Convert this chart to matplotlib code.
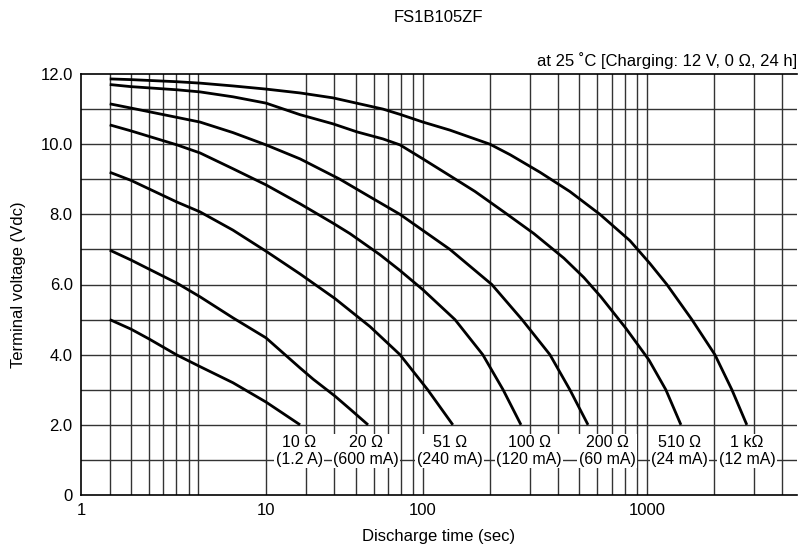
import numpy as np
import matplotlib
matplotlib.use('Agg')
import matplotlib.pyplot as plt

plt.rcParams['font.family'] = ['Liberation Sans', 'DejaVu Sans']

# discharge curves: time (s) / terminal voltage (V)
t_10 = [1.43, 1.86, 2.33, 3.3, 4.4, 6.63, 10, 13, 16.5]
v_10 = [5.0, 4.73, 4.45, 3.99, 3.66, 3.2, 2.65, 2.31, 2.0]

t_20 = [1.43, 1.86, 2.33, 3.3, 4.4, 6.63, 10, 16.5, 20, 27.5, 34.3, 44.7]
v_20 = [6.98, 6.70, 6.44, 6.04, 5.65, 5.05, 4.48, 3.62, 3.3, 2.82, 2.45, 2.0]

t_51 = [1.43, 1.86, 3.3, 4.4, 6.63, 10, 16.5, 27.5, 46, 71.4, 105, 136]
v_51 = [9.2, 8.97, 8.35, 8.07, 7.55, 6.95, 6.3, 5.6, 4.8, 4.0, 3.0, 2.0]

t_100 = [1.43, 1.86, 3.3, 4.4, 6.63, 10, 16.5, 26.7, 34.3, 53.2, 71.4, 100, 139, 185, 228, 274]
v_100 = [10.55, 10.38, 9.98, 9.75, 9.3, 8.84, 8.3, 7.75, 7.45, 6.85, 6.4, 5.85, 5.0, 4.0, 3.0, 2.0]

t_200 = [1.43, 1.86, 4.4, 6.63, 10, 16.5, 29.6, 45.9, 71.4, 132, 203, 277, 369, 453, 546]
v_200 = [11.15, 11.03, 10.63, 10.33, 9.98, 9.58, 9.0, 8.5, 8.0, 7.0, 6.0, 5.0, 4.0, 3.0, 2.0]

t_510 = [1.43, 1.86, 3.3, 4.4, 6.63, 10, 16.5, 26.7, 38, 55.6, 71.4, 100, 132, 171, 232,
         313, 426, 523, 623, 806, 1021, 1215, 1419]
v_510 = [11.7, 11.64, 11.55, 11.49, 11.35, 11.17, 10.84, 10.58, 10.35, 10.15, 9.98, 9.58, 9.1,
         8.65, 8.05, 7.45, 6.75, 6.2, 5.65, 4.75, 3.85, 3.0, 2.0]

t_1k = [1.43, 1.86, 3.3, 4.4, 6.63, 10, 16.5, 26.7, 55.6, 71.4, 100, 132, 162, 199, 245,
        333, 453, 617, 840, 1031, 1228, 1588, 2012, 2396, 2794]
v_1k = [11.86, 11.84, 11.78, 11.74, 11.66, 11.57, 11.46, 11.32, 11.0, 10.85, 10.63, 10.4,
        10.2, 10.0, 9.7, 9.2, 8.65, 8.0, 7.25, 6.6, 6.0, 5.0, 4.0, 3.0, 2.0]

curves = [(t_10, v_10), (t_20, v_20), (t_51, v_51), (t_100, v_100),
          (t_200, v_200), (t_510, v_510), (t_1k, v_1k)]

load_labels = ['10 Ω\n(1.2 A)', '20 Ω\n(600 mA)', '51 Ω\n(240 mA)', '100 Ω\n(120 mA)',
               '200 Ω\n(60 mA)', '510 Ω\n(24 mA)', '1 kΩ\n(12 mA)']
label_pos = [0.305, 0.398, 0.515, 0.626, 0.735, 0.836, 0.930]

x_ticks = [1, 10, 100, 1000]
x_ticklabels = ['1', '10', '100', '1000']
y_ticks = [0, 2, 4, 6, 8, 10, 12]
y_ticklabels = ['0', '2.0', '4.0', '6.0', '8.0', '10.0', '12.0']

# the printed log axis is not uniform: each decade has its own width
log_knots = [-1, 0, 1, 2, 3, 4, 5]
px_knots = [-185, 0, 185, 342, 566, 790, 1014]

# vertical grid lines as printed
x_grid = [1.43, 1.86, 2.33, 2.77, 3.26, 3.84, 4.29, 10,
          18, 27, 37.4, 48.7, 60, 72.4, 86.3, 100,
          200, 300, 400, 500, 600, 700, 800, 900, 1000,
          2000, 3000, 4000]


def fwd(x):
    lx = np.log10(np.clip(np.asarray(x, dtype=float), 1e-9, None))
    return np.interp(lx, log_knots, px_knots)


def inv(p):
    return 10 ** np.interp(p, px_knots, log_knots)


fig = plt.figure(figsize=(8.04, 5.54), dpi=100)
ax = fig.add_axes([81 / 804, 59 / 554, 716 / 804, 421 / 554])
ax.set_xscale('function', functions=(fwd, inv))
ax.set_xlim(1, 4680)
ax.set_ylim(0, 12)

for gx in x_grid:
    ax.axvline(gx, color='#333333', lw=1.0, zorder=1)
for gy in range(1, 12):
    ax.axhline(gy, color='#333333', lw=1.0, zorder=1)

for t, v in curves:
    ax.plot(t, v, color='black', lw=2.0, zorder=3, solid_capstyle='butt',
            solid_joinstyle='round')

for lab, xp in zip(load_labels, label_pos):
    ax.text(xp, 1.25 / 12, lab, transform=ax.transAxes, ha='center', va='center',
            fontsize=11.5, linespacing=1.15, zorder=4,
            bbox=dict(facecolor='white', edgecolor='none', pad=1.0))

ax.set_xticks(x_ticks)
ax.set_xticklabels(x_ticklabels, fontsize=12)
ax.xaxis.set_minor_locator(matplotlib.ticker.NullLocator())
ax.set_yticks(y_ticks)
ax.set_yticklabels(y_ticklabels, fontsize=12)
ax.tick_params(length=0, pad=6)

for side in ['left', 'bottom', 'top']:
    ax.spines[side].set_color('black')
    ax.spines[side].set_linewidth(1.2)
ax.spines['right'].set_visible(False)

ax.set_xlabel('Discharge time (sec)', fontsize=12, labelpad=8)
ax.set_ylabel('Terminal voltage (Vdc)', fontsize=12, labelpad=10)
ax.text(1.0, 1.012, 'at 25 ˚C [Charging: 12 V, 0 Ω, 24 h]', transform=ax.transAxes,
        ha='right', va='bottom', fontsize=12)
fig.text(438 / 804, 1 - 17 / 554, 'FS1B105ZF', ha='center', va='center', fontsize=12)

fig.savefig('out.png', dpi=100)
